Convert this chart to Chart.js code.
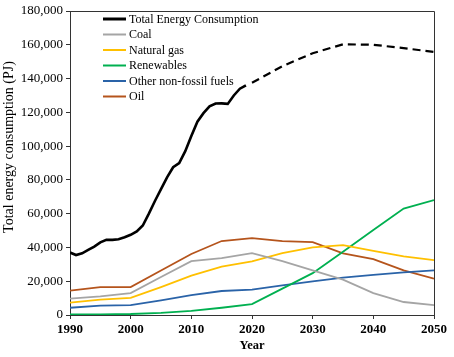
<!DOCTYPE html>
<html><head><meta charset="utf-8">
<script src="https://cdn.jsdelivr.net/npm/chart.js@4.4.1/dist/chart.umd.min.js"></script>
<style>html,body{margin:0;padding:0;background:#fff}#wrap{width:454px;height:357px}
.pre{position:absolute;left:-1000px;top:0;font-family:'Liberation Serif';}
</style>
</head><body><span class="pre">Total 0123456789 <b>Year</b></span><div id="wrap"><canvas id="c" width="454" height="357"></canvas></div>
<script>
// ---- data ----
const histYears = [1990,1991,1992,1993,1994,1995,1996,1997,1998,1999,2000,2001,2002,2003,2004,2005,2006,2007,2008,2009,2010,2011,2012,2013,2014,2015,2016,2017,2018,2019];
const histTotal = [37000,35500,36500,38500,40500,43000,44500,44500,44800,46000,47500,49500,53000,60000,67500,74500,81500,87500,90000,97000,106000,114500,119500,123500,125200,125300,125000,130000,134000,136000];
const projYears = [2020,2025,2030,2035,2040,2045,2050];
const projTotal = [137500,147300,155000,160300,160000,158000,155800];
const years = [1990,1995,2000,2005,2010,2015,2020,2025,2030,2035,2040,2045,2050];
const coal        = [9700,11000,13000,22500,31900,33700,36600,31900,26400,20900,13000,7700,5900];
const naturalGas  = [7300,9100,10100,16500,23300,28600,31700,36600,40000,41400,38000,34700,32500];
const renewables  = [300,400,600,1200,2500,4300,6500,15600,24800,37500,50300,63000,68000];
const otherNonFossil = [4300,5500,5900,8700,11800,14200,15000,17500,19900,22100,23800,25200,26400];
const oil         = [14400,16500,16500,26400,36100,43800,45500,43800,43100,36500,33100,26400,21500];
const xTickValues = [1990,2000,2010,2020,2030,2040,2050];
const yTickValues = [0,20000,40000,60000,80000,100000,120000,140000,160000,180000];
const seriesNames = ['Total Energy Consumption','Coal','Natural gas','Renewables','Other non-fossil fuels','Oil'];

const pts = (xs, ys) => xs.map((x, i) => ({x, y: ys[i]}));
const SERIF = "'Liberation Serif', 'DejaVu Serif', serif";

const colors = ['#000000','#A5A5A5','#FFC000','#00B050','#2A63A8','#B5541C'];
const datasets = [
  {label: seriesNames[0], data: pts(histYears, histTotal), borderColor: colors[0], borderWidth: 2.6, legendWidth: 3},
  {label: seriesNames[0], data: pts(projYears, projTotal), borderColor: colors[0], borderWidth: 2.2, borderDash: [8,5], hideInLegend: true},
  {label: seriesNames[1], data: pts(years, coal), borderColor: colors[1], borderWidth: 1.8, legendWidth: 2},
  {label: seriesNames[2], data: pts(years, naturalGas), borderColor: colors[2], borderWidth: 1.8, legendWidth: 2},
  {label: seriesNames[3], data: pts(years, renewables), borderColor: colors[3], borderWidth: 1.8, legendWidth: 2},
  {label: seriesNames[4], data: pts(years, otherNonFossil), borderColor: colors[4], borderWidth: 1.8, legendWidth: 2},
  {label: seriesNames[5], data: pts(years, oil), borderColor: colors[5], borderWidth: 1.8, legendWidth: 2}
].map(d => Object.assign({pointRadius: 0, fill: false, tension: 0, borderCapStyle: 'butt'}, d));

const extras = {
  id: 'extras',
  afterDatasetsDraw(chart) {
    const ctx = chart.ctx, a = chart.chartArea;
    ctx.save();
    ctx.strokeStyle = '#333'; ctx.lineWidth = 1;
    ctx.beginPath();
    ctx.moveTo(a.left, a.top + 0.5); ctx.lineTo(a.right + 0.5, a.top + 0.5); ctx.lineTo(a.right + 0.5, a.bottom);
    ctx.stroke();
    ctx.font = '12px ' + SERIF;
    ctx.textBaseline = 'middle'; ctx.textAlign = 'left'; ctx.fillStyle = '#000';
    let row = 0;
    chart.data.datasets.forEach(ds => {
      if (ds.hideInLegend) return;
      const y = 19 + row * 15.5;
      ctx.strokeStyle = ds.borderColor; ctx.lineWidth = ds.legendWidth;
      ctx.beginPath(); ctx.moveTo(103, y); ctx.lineTo(126, y); ctx.stroke();
      ctx.fillText(ds.label, 129, y + 0.5);
      row++;
    });
    ctx.restore();
  },
  afterDraw(chart) {
    const ctx = chart.ctx;
    ctx.save();
    ctx.translate(9, 147); ctx.rotate(-Math.PI / 2);
    ctx.font = '14px ' + SERIF; ctx.fillStyle = '#000';
    ctx.textAlign = 'center'; ctx.textBaseline = 'middle';
    ctx.fillText('Total energy consumption (PJ)', 0, 0);
    ctx.restore();
  }
};

function build() {
  new Chart(document.getElementById('c'), {
    type: 'line',
    data: {datasets},
    options: {
      responsive: false, animation: false, devicePixelRatio: 1,
      layout: {padding: {left: 0, right: 20, top: 11, bottom: 0}},
      plugins: {legend: {display: false}, tooltip: {enabled: false}},
      scales: {
        x: {
          type: 'linear', min: 1990, max: 2050,
          afterBuildTicks: s => { s.ticks = xTickValues.map(v => ({value: v})); },
          afterFit: s => { s.height = 42; },
          ticks: {font: {family: SERIF, size: 13, weight: 'bold'}, color: '#000', padding: 3, maxRotation: 0, callback: v => String(v)},
          grid: {drawOnChartArea: false, drawTicks: true, tickLength: 4, color: '#333'},
          border: {color: '#333', width: 1},
          title: {display: true, text: 'Year', font: {family: SERIF, size: 12.5, weight: 'bold'}, color: '#000', padding: {top: 2, bottom: 4}}
        },
        y: {
          min: 0, max: 180000,
          afterBuildTicks: s => { s.ticks = yTickValues.map(v => ({value: v})); },
          afterFit: s => { s.width = 70; },
          ticks: {font: {family: SERIF, size: 13}, color: '#000', padding: 3, callback: v => v.toLocaleString('en-US')},
          grid: {drawOnChartArea: false, drawTicks: true, tickLength: 4, color: '#333'},
          border: {color: '#333', width: 1}
        }
      }
    },
    plugins: [extras]
  });
}
Promise.all([
  document.fonts.load("13px 'Liberation Serif'"),
  document.fonts.load("bold 13px 'Liberation Serif'")
]).catch(() => {}).then(() => document.fonts.ready).then(build, build);
</script></body></html>
